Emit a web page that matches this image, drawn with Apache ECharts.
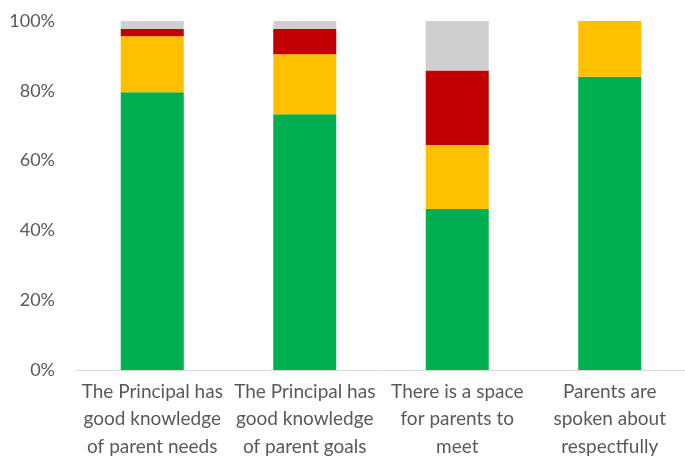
<!DOCTYPE html>
<html><head><meta charset="utf-8">
<script src="https://cdn.jsdelivr.net/npm/echarts@6/dist/echarts.min.js"></script>
<style>html,body{margin:0;padding:0;background:#fff}#c{width:685px;height:459px}</style>
</head><body><div id="c"></div>
<script>
const categories = ["The Principal has\ngood knowledge\nof parent needs","The Principal has\ngood knowledge\nof parent goals","There is a space\nfor parents to\nmeet","Parents are\nspoken about\nrespectfully"];
const greenValues = [79.6, 73.3, 46.1, 84.0];
const yellowValues = [16.0, 17.2, 18.4, 16.0];
const redValues = [2.1, 7.2, 21.3, 0];
const greyValues = [2.3, 2.3, 14.2, 0];
const yTicks = [0, 20, 40, 60, 80, 100];

const chart = echarts.init(document.getElementById('c'));
const font = "Lato, 'Open Sans', sans-serif";
function s(name, data, color){
  return {name, type:'bar', stack:'a', data, barWidth:63, itemStyle:{color}, emphasis:{disabled:true}};
}
chart.setOption({
  animation:false,
  grid:{left:76, right:-1, top:21, bottom:89, outerBoundsMode:'none', containLabel:false},
  xAxis:{type:'category', data:categories,
    axisLine:{lineStyle:{color:'#d9d9d9', width:1}}, axisTick:{show:false},
    axisLabel:{color:'#595959', fontSize:19, fontFamily:font, lineHeight:27.5, margin:8, interval:0}},
  yAxis:{type:'value', min:0, max:100, interval:20,
    splitLine:{show:false}, axisLine:{show:false}, axisTick:{show:false},
    axisLabel:{color:'#595959', fontSize:18, fontFamily:font, margin:21, formatter: v => yTicks.includes(v) ? v + '%' : ''}},
  series:[
    s('Green', greenValues, '#00B050'),
    s('Yellow', yellowValues, '#FFC000'),
    s('Red', redValues, '#C00000'),
    s('Grey', greyValues, '#D0CECE')
  ]
});
</script></body></html>
